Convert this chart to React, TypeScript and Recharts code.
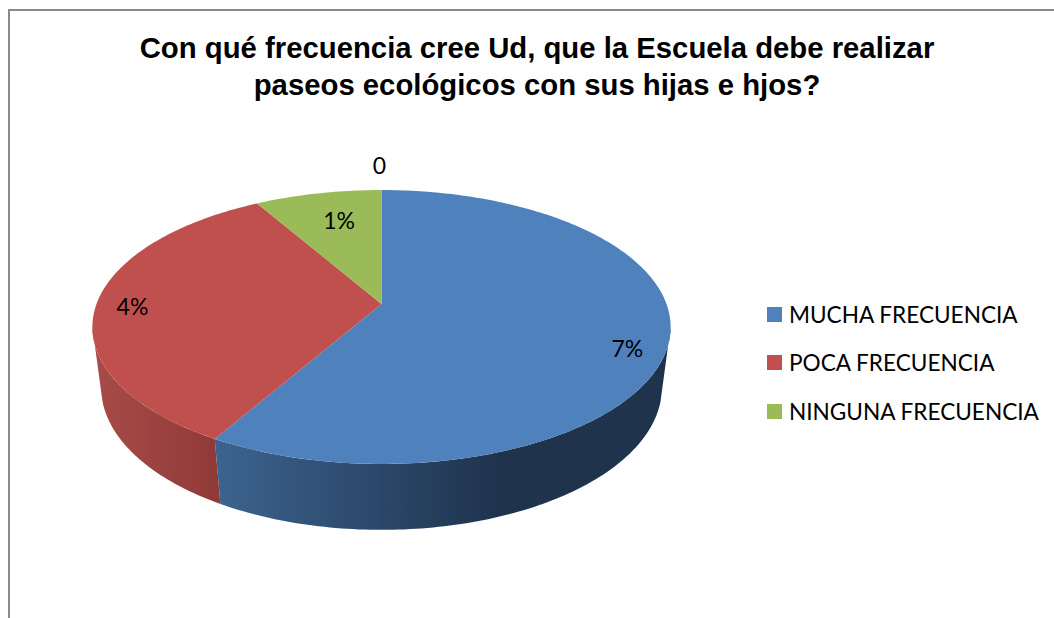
import { PieChart, Pie, Legend } from "recharts"

const categories = ["MUCHA FRECUENCIA", "POCA FRECUENCIA", "NINGUNA FRECUENCIA", ""]
const values = [7, 4, 1, 0]
const dataLabels = ["7%", "4%", "1%", "0"]
const colors = ["#4f81bd", "#c0504d", "#9bbb59", "#9bbb59"]
const wallFills = ["url(#wallBlue)", "url(#wallRed)", "#7d9a45", "#7d9a45"]
const labelOffsets = [
  [-42, 8],
  [36, 2],
  [21, 27],
  [-2, -25],
]

const tableData = categories.map((name, i) => ({ name, value: values[i], fill: colors[i] }))

// perspective of the tilted disc, worked out from the rim of the reference
const tilt = 0.168
const squash = 0.467
const wallShrink = 0.03
const wallDrop = 61.6

function rimPoint(cx: number, cy: number, r: number, deg: number, bottom = false) {
  const t = (deg * Math.PI) / 180
  const u = Math.sin(t)
  const v = Math.cos(t)
  const w = 1 + tilt * v + (bottom ? wallShrink : 0)
  return [cx + (r * u) / w, cy + (-r * squash * v + (bottom ? wallDrop : 0)) / w]
}

function arcPoints(cx: number, cy: number, r: number, from: number, to: number, bottom = false) {
  const pts: number[][] = []
  const steps = Math.max(1, Math.ceil(Math.abs(to - from)))
  for (let i = 0; i <= steps; i++) {
    pts.push(rimPoint(cx, cy, r, from + ((to - from) * i) / steps, bottom))
  }
  return pts
}

const toPath = (pts: number[][]) =>
  "M" + pts.map((p) => p[0].toFixed(2) + " " + p[1].toFixed(2)).join("L") + "Z"

function TopSlice(props: any) {
  const { cx, cy, outerRadius, startAngle, endAngle, fill } = props
  if (startAngle === endAngle) return null
  const pts = [[cx, cy], ...arcPoints(cx, cy, outerRadius, 90 - startAngle, 90 - endAngle)]
  return <path d={toPath(pts)} fill={fill} />
}

// only the front of the wall shows, between the two side edges of the disc
function WallSlice(props: any) {
  const { cx, cy, outerRadius, startAngle, endAngle, index } = props
  const from = 90 - startAngle
  const to = 90 - endAngle
  const topFrom = Math.max(from, 99.7)
  const topTo = Math.min(to, 260.3)
  if (topFrom >= topTo) return null
  const pts = [
    ...arcPoints(cx, cy, outerRadius, topFrom, topTo),
    ...arcPoints(cx, cy, outerRadius, Math.min(to, 255), Math.max(from, 105), true),
  ]
  return <path d={toPath(pts)} fill={wallFills[index]} />
}

function SliceLabel(props: any) {
  const { cx, cy, outerRadius, midAngle, index } = props
  const [x, y] = rimPoint(cx, cy, outerRadius, 90 - midAngle)
  return (
    <text
      x={x + labelOffsets[index][0]}
      y={y + labelOffsets[index][1]}
      textAnchor="middle"
      dominantBaseline="central"
      fill="#000"
      style={{ fontFamily: "Lato", fontSize: 23 }}
    >
      {dataLabels[index]}
    </text>
  )
}

function LegendList(props: any) {
  const payload = props.payload || []
  const items = categories
    .filter((c) => c)
    .map((c) => payload.find((p: any) => p.value === c))
    .filter(Boolean)
  return (
    <div>
      {items.map((p: any) => (
        <div key={p.value} style={{ display: "flex", alignItems: "center", height: 48.5 }}>
          <div style={{ width: 15, height: 15, background: p.color, marginRight: 7 }}></div>
          <span style={{ fontFamily: "Lato", fontSize: 22.6, color: "#000", whiteSpace: "nowrap" }}>{p.value}</span>
        </div>
      ))}
    </div>
  )
}

export default function App() {
  return (
    <div style={{ position: "absolute", left: 0, top: 0, width: 1054, height: 618, overflow: "hidden", background: "#fff" }}>
      <div style={{ position: "absolute", left: 8, top: 9, width: 1046, height: 609, borderTop: "2px solid #8a8a8a", borderLeft: "2px solid #8a8a8a" }}></div>
      <div
        style={{
          position: "absolute",
          left: 0,
          top: 30,
          width: 1074,
          textAlign: "center",
          fontFamily: "Liberation Sans",
          fontWeight: "bold",
          fontSize: 29.3,
          lineHeight: "36.5px",
          color: "#000",
        }}
      >
        Con qué frecuencia cree Ud, que la Escuela debe realizar
        <br />
        paseos ecológicos con sus hijas e hjos?
      </div>
      <PieChart width={1054} height={618} margin={{ top: 0, right: 0, bottom: 0, left: 0 }} style={{ position: "absolute", left: 0, top: 0 }}>
        <defs>
          <linearGradient id="wallBlue" gradientUnits="userSpaceOnUse" x1="217" y1="0" x2="500" y2="0">
            <stop offset="0" stopColor="#3c638f" />
            <stop offset="1" stopColor="#1f334d" />
          </linearGradient>
          <linearGradient id="wallRed" gradientUnits="userSpaceOnUse" x1="93" y1="0" x2="220" y2="0">
            <stop offset="0" stopColor="#a84b48" />
            <stop offset="1" stopColor="#8f3a38" />
          </linearGradient>
        </defs>
        <Pie
          data={tableData}
          dataKey="value"
          nameKey="name"
          cx={381.5}
          cy={304}
          outerRadius={285}
          startAngle={90}
          endAngle={-270}
          stroke="none"
          legendType="none"
          shape={WallSlice}
          isAnimationActive={false}
        />
        <Pie
          data={tableData}
          dataKey="value"
          nameKey="name"
          cx={381.5}
          cy={304}
          outerRadius={285}
          startAngle={90}
          endAngle={-270}
          stroke="none"
          legendType="square"
          shape={TopSlice}
          label={SliceLabel}
          labelLine={false}
          isAnimationActive={false}
        />
        <Legend
          layout="vertical"
          align="right"
          verticalAlign="top"
          content={LegendList}
          wrapperStyle={{ left: 767, top: 290, width: 287 }}
        />
      </PieChart>
    </div>
  )
}
